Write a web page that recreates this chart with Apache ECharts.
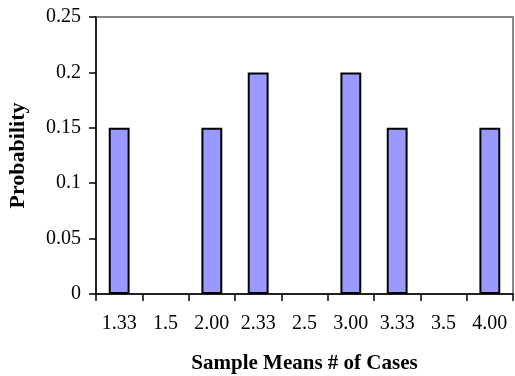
<!DOCTYPE html>
<html>
<head>
<meta charset="utf-8">
<script src="https://cdn.jsdelivr.net/npm/echarts@6/dist/echarts.min.js"></script>
<style>
  html, body { margin: 0; padding: 0; background: #fff; }
  #chart { width: 515px; height: 376px; }
</style>
</head>
<body>
<div id="chart"></div>
<script>
// Sampling distribution of the mean number of cases
const categories = ['1.33', '1.5', '2.00', '2.33', '2.5', '3.00', '3.33', '3.5', '4.00'];
const probabilities = [0.15, 0, 0.15, 0.2, 0, 0.2, 0.15, 0, 0.15];
const yTicks = [0, 0.05, 0.1, 0.15, 0.2, 0.25];

const font = '"Liberation Serif", "Times New Roman", serif';
const chart = echarts.init(document.getElementById('chart'));

// empty categories get no outline so nothing sits on the baseline
const barData = probabilities.map(v =>
  v === 0 ? { value: v, itemStyle: { borderWidth: 0 } } : v
);

chart.setOption({
  animation: false,
  grid: {
    left: 96, top: 17, right: 2, bottom: 82,
    outerBoundsMode: 'none',
    containLabel: false,
    show: true, borderColor: '#888', borderWidth: 2, backgroundColor: '#fff'
  },
  xAxis: {
    type: 'category',
    data: categories,
    boundaryGap: true,
    name: 'Sample Means # of Cases',
    nameLocation: 'middle',
    nameGap: 59,
    nameTextStyle: { fontFamily: font, fontSize: 21, fontWeight: 'bold', color: '#000' },
    axisLine: { lineStyle: { color: '#000', width: 1.5 } },
    axisTick: { show: true, length: 7, lineStyle: { color: '#000', width: 1.5 } },
    axisLabel: { margin: 20, fontFamily: font, fontSize: 20, color: '#000' },
    splitLine: { show: false }
  },
  yAxis: {
    type: 'value',
    min: 0,
    max: yTicks[yTicks.length - 1],
    interval: yTicks[1] - yTicks[0],
    name: 'Probability',
    nameLocation: 'middle',
    nameGap: 67,
    nameTextStyle: { fontFamily: font, fontSize: 22, fontWeight: 'bold', color: '#000' },
    axisLine: { show: true, lineStyle: { color: '#000', width: 1.5 } },
    axisTick: { show: true, length: 7, lineStyle: { color: '#000', width: 1.5 } },
    axisLabel: { margin: 15, fontFamily: font, fontSize: 20, color: '#000',
      formatter: v => String(+v.toFixed(2)) },
    splitLine: { show: false }
  },
  series: [{
    type: 'bar',
    data: barData,
    barWidth: '45%',
    itemStyle: { color: '#9999FF', borderColor: '#000', borderWidth: 2 }
  }]
});
</script>
</body>
</html>
